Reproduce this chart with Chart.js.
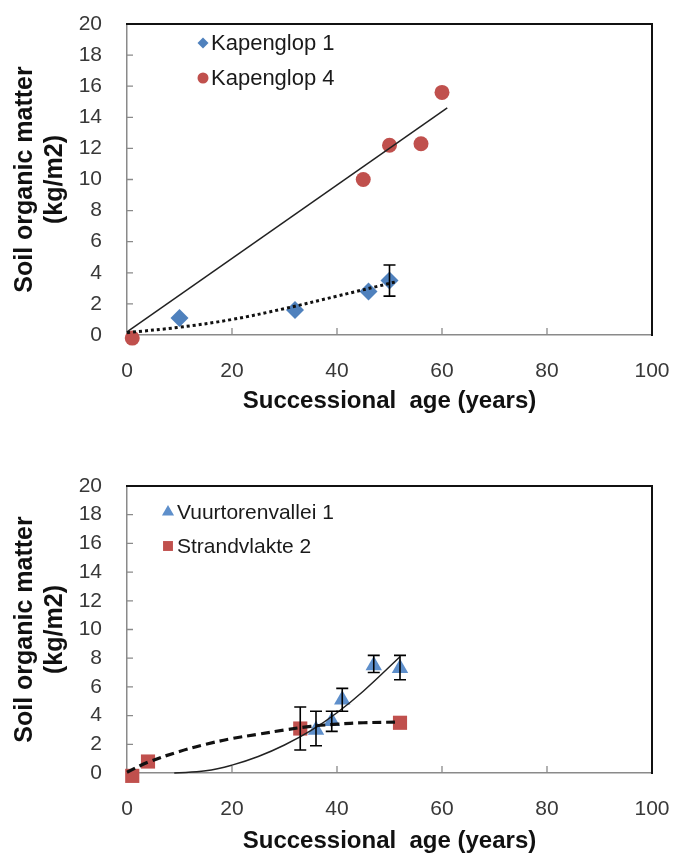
<!DOCTYPE html>
<html><head><meta charset="utf-8">
<script src="https://cdn.jsdelivr.net/npm/chart.js@4.4.1/dist/chart.umd.min.js"></script>
<style>
html,body{margin:0;padding:0;background:#fff;}
#w1{position:absolute;left:0;top:0;width:676px;height:430px;}
#w2{position:absolute;left:0;top:430px;width:676px;height:426px;}
</style></head><body>
<div id="w1"><canvas id="c1"></canvas></div>
<div id="w2"><canvas id="c2"></canvas></div>
<script>
// ---------- shared axis labels ----------
const xTicks = [0, 20, 40, 60, 80, 100];
const yTicks = [0, 2, 4, 6, 8, 10, 12, 14, 16, 18, 20];
const xAxisTitle = 'Successional  age (years)';
const yAxisTitle = ['Soil organic matter', '(kg/m2)'];

// ---------- top chart ----------
const kap1Label = 'Kapenglop 1';
const kap1Age = [10, 32, 46, 50];
const kap1SOM = [1.1, 1.6, 2.8, 3.5];
const kap1ErrLow = [null, null, null, 2.5];
const kap1ErrHigh = [null, null, null, 4.5];
const kap1TrendAge = [0, 10, 20, 30, 40, 51];
const kap1TrendSOM = [0.15, 0.5, 1.0, 1.7, 2.5, 3.4];

const kap4Label = 'Kapenglop 4';
const kap4Age = [1, 45, 50, 56, 60];
const kap4SOM = [-0.2, 10.0, 12.2, 12.3, 15.6];
const kap4TrendAge = [0, 61];
const kap4TrendSOM = [0.2, 14.6];

// ---------- bottom chart ----------
const vuurLabel = 'Vuurtorenvallei 1';
const vuurAge = [36, 39, 41, 47, 52];
const vuurSOM = [3.0, 3.6, 5.1, 7.5, 7.3];
const vuurErrLow = [1.9, 2.9, 4.3, 7.0, 6.5];
const vuurErrHigh = [4.3, 4.3, 5.9, 8.2, 8.2];
const vuurTrendAge = [9, 15, 20, 25, 30, 35, 40, 45, 52];
const vuurTrendSOM = [0, 0.15, 0.55, 1.15, 1.95, 2.95, 4.2, 5.7, 8.1];

const strLabel = 'Strandvlakte 2';
const strAge = [1, 4, 33, 52];
const strSOM = [-0.2, 0.8, 3.1, 3.5];
const strErrLow = [null, null, 1.6, null];
const strErrHigh = [null, null, 4.6, null];
const strTrendAge = [0, 4, 10, 15, 20, 25, 30, 35, 40, 45, 52];
const strTrendSOM = [0.05, 0.75, 1.5, 2.0, 2.4, 2.7, 3.0, 3.25, 3.4, 3.5, 3.55];

const BLUE = '#4F81BD';
const BLUE_LIGHT = '#5E8FCB';
const RED = '#C0504D';

const pts = (xs, ys) => xs.map((x, i) => ({x: x, y: ys[i]}));

const framePlugin = {
  id: 'frame',
  beforeDatasetsDraw(chart) {
    const {ctx, chartArea: a, scales: {x, y}} = chart;
    ctx.save();
    ctx.strokeStyle = '#8a8a8a';
    ctx.lineWidth = 1.3;
    ctx.beginPath();
    x.ticks.forEach(t => {
      if (t.value === x.min || t.value === x.max) return;
      const px = x.getPixelForValue(t.value);
      ctx.moveTo(px, a.bottom); ctx.lineTo(px, a.bottom - 7);
    });
    y.ticks.forEach(t => {
      if (t.value === y.min) return;
      const py = y.getPixelForValue(t.value);
      ctx.moveTo(a.left, py); ctx.lineTo(a.left + 6, py);
    });
    ctx.stroke();
    ctx.strokeStyle = '#111';
    ctx.lineWidth = 2;
    ctx.beginPath();
    ctx.moveTo(a.left - 1, a.top); ctx.lineTo(a.right, a.top); ctx.lineTo(a.right, a.bottom + 1);
    ctx.stroke();
    ctx.restore();
  }
};

const errPlugin = {
  id: 'errbars',
  afterDatasetsDraw(chart) {
    const {ctx, scales: {x, y}} = chart;
    ctx.save();
    ctx.strokeStyle = '#000';
    ctx.lineWidth = 1.6;
    chart.data.datasets.forEach(ds => {
      if (!ds.errLow) return;
      ds.data.forEach((p, i) => {
        const lo = ds.errLow[i], hi = ds.errHigh[i];
        if (lo == null || hi == null) return;
        const px = x.getPixelForValue(p.x);
        const pl = y.getPixelForValue(lo), ph = y.getPixelForValue(hi);
        ctx.beginPath();
        ctx.moveTo(px, pl); ctx.lineTo(px, ph);
        ctx.moveTo(px - 6, pl); ctx.lineTo(px + 6, pl);
        ctx.moveTo(px - 6, ph); ctx.lineTo(px + 6, ph);
        ctx.stroke();
      });
    });
    ctx.restore();
  }
};

const legendPlugin = {
  id: 'inLegend',
  afterDraw(chart, args, opts) {
    const {ctx} = chart;
    ctx.save();
    ctx.font = opts.font;
    ctx.textBaseline = 'middle';
    opts.items.forEach(it => {
      const ds = chart.data.datasets[it.ds];
      ctx.fillStyle = ds.backgroundColor;
      Chart.helpers.drawPoint(ctx, {pointStyle: ds.pointStyle, radius: it.r, rotation: 0, borderWidth: 0}, it.x, it.y);
      ctx.fillStyle = '#1a1a1a';
      ctx.fillText(ds.label, it.x + it.gap, it.y + 1);
    });
    ctx.restore();
  }
};

function makeOptions(topPad, xHeight, titleBottomPad, legendOpts) {
  return {
    responsive: true,
    maintainAspectRatio: false,
    animation: false,
    layout: {padding: {top: topPad, right: 24, left: 0, bottom: 0}},
    plugins: {legend: {display: false}, tooltip: {enabled: false}, inLegend: legendOpts},
    scales: {
      x: {
        type: 'linear', min: 0, max: 100,
        afterBuildTicks: s => { s.ticks = xTicks.map(v => ({value: v})); },
        afterFit: s => { s.height = xHeight; s.paddingLeft = 0; s.paddingRight = 0; },
        grid: {display: false},
        border: {display: true, color: '#8a8a8a', width: 1.5},
        ticks: {font: {family: '"Liberation Sans", Arial, sans-serif', size: 21}, color: '#383838', padding: 16, maxRotation: 0},
        title: {display: true, text: xAxisTitle, color: '#111',
                font: {family: '"Liberation Sans", Arial, sans-serif', size: 24, weight: 'bold', lineHeight: 1.2},
                padding: {top: 0, bottom: titleBottomPad}}
      },
      y: {
        type: 'linear', min: 0, max: 20,
        afterBuildTicks: s => { s.ticks = yTicks.map(v => ({value: v})); },
        afterFit: s => { s.width = 127; s.paddingTop = 0; s.paddingBottom = 0; },
        grid: {display: false},
        border: {display: true, color: '#8a8a8a', width: 1.5},
        ticks: {font: {family: '"Liberation Sans", Arial, sans-serif', size: 21}, color: '#383838', padding: 17},
        title: {display: true, text: yAxisTitle, color: '#111',
                font: {family: '"Liberation Sans", Arial, sans-serif', size: 25, weight: 'bold', lineHeight: 1.2},
                padding: {top: 10.5, bottom: 0}}
      }
    }
  };
}

new Chart(document.getElementById('c1'), {
  type: 'scatter',
  data: {
    datasets: [
      {label: 'trend1', data: pts(kap1TrendAge, kap1TrendSOM), showLine: true, tension: 0.4,
       borderColor: '#111', borderWidth: 3, borderDash: [3, 3], pointRadius: 0, order: 0, clip: false},
      {label: 'trend4', data: pts(kap4TrendAge, kap4TrendSOM), showLine: true,
       borderColor: '#222', borderWidth: 1.5, pointRadius: 0, order: 0, clip: false},
      {label: kap1Label, data: pts(kap1Age, kap1SOM), errLow: kap1ErrLow, errHigh: kap1ErrHigh,
       pointStyle: 'rectRot', pointRadius: 9, backgroundColor: BLUE, borderColor: BLUE, borderWidth: 0, order: 1, clip: false},
      {label: kap4Label, data: pts(kap4Age, kap4SOM),
       pointStyle: 'circle', pointRadius: 7.5, backgroundColor: RED, borderColor: RED, borderWidth: 0, order: 1, clip: false}
    ]
  },
  options: makeOptions(24, 95, 14.5, {
    font: '22px "Liberation Sans", Arial, sans-serif',
    items: [{ds: 2, x: 203, y: 43, r: 5.5, gap: 8}, {ds: 3, x: 203, y: 78, r: 5.5, gap: 8}]
  }),
  plugins: [framePlugin, errPlugin, legendPlugin]
});

new Chart(document.getElementById('c2'), {
  type: 'scatter',
  data: {
    datasets: [
      {label: 'trendS', data: pts(strTrendAge, strTrendSOM), showLine: true, tension: 0.4,
       borderColor: '#111', borderWidth: 3.2, borderDash: [9, 5], pointRadius: 0, order: 0, clip: false},
      {label: 'trendV', data: pts(vuurTrendAge, vuurTrendSOM), showLine: true, tension: 0.4,
       borderColor: '#222', borderWidth: 1.5, pointRadius: 0, order: 0, clip: false},
      {label: vuurLabel, data: pts(vuurAge, vuurSOM), errLow: vuurErrLow, errHigh: vuurErrHigh,
       pointStyle: 'triangle', pointRadius: 9.5, backgroundColor: BLUE_LIGHT, borderColor: BLUE_LIGHT, borderWidth: 0, order: 1, clip: false},
      {label: strLabel, data: pts(strAge, strSOM), errLow: strErrLow, errHigh: strErrHigh,
       pointStyle: 'rect', pointRadius: 10, backgroundColor: RED, borderColor: RED, borderWidth: 0, order: 1, clip: false}
    ]
  },
  options: makeOptions(56, 83, 0, {
    font: '21px "Liberation Sans", Arial, sans-serif',
    items: [{ds: 2, x: 168, y: 82, r: 7, gap: 9}, {ds: 3, x: 168, y: 116, r: 7, gap: 9}]
  }),
  plugins: [framePlugin, errPlugin, legendPlugin]
});
</script>
</body></html>
